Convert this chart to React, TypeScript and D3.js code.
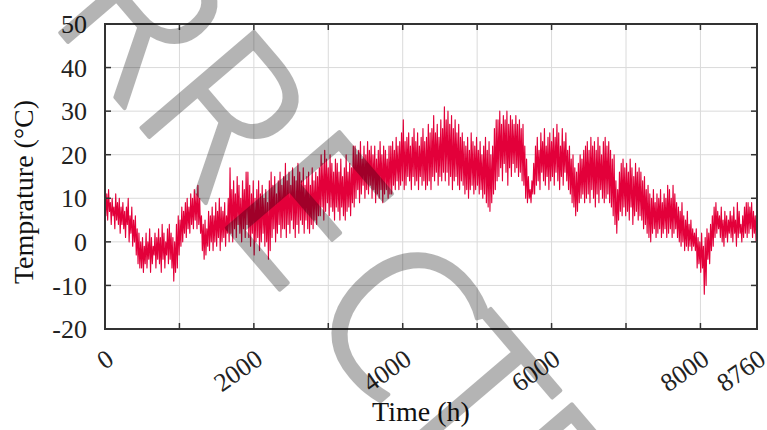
import React from "react";
import * as d3 from "d3";

// Hourly air temperature over one year (8760 h), summarised per day as the
// daily maximum (at the start of the day) and daily minimum (12 h later).
const DAY_HOURS = 24;

const dailyHighs: number[] = [
  13, 11, 12, 9, 10, 8, 11, 9, 10, 8,
  9, 7, 8, 10, 6, 8, 5, 6, 3, 2,
  0, 1, -1, 2, 0, 3, 1, -1, 2, 1,
  3, 1, 4, 2, 0, 3, 4, 2, 1, 0,
  4, 6, 5, 8, 7, 9, 10, 8, 11, 10,
  12, 11, 13, 10, 6, 4, 5, 3, 7, 6,
  8, 6, 9, 7, 10, 8, 7, 9, 6, 10,
  17, 12, 14, 11, 15, 13, 10, 14, 12, 16,
  16, 13, 11, 14, 10, 12, 14, 11, 13, 10,
  12, 9, 14, 16, 13, 15, 11, 14, 16, 13,
  15, 18, 14, 16, 13, 17, 15, 14, 18, 16,
  14, 17, 13, 15, 16, 13, 17, 14, 16, 15,
  17, 20, 18, 21, 19, 17, 20, 18, 16, 19,
  18, 16, 19, 15, 17, 20, 16, 18, 17, 22,
  22, 20, 21, 23, 19, 22, 20, 23, 21, 22,
  20, 22, 19, 21, 23, 20, 22, 21, 19, 22,
  22, 23, 21, 24, 22, 23, 25, 28, 23, 24,
  25, 22, 24, 26, 23, 25, 22, 24, 26, 23,
  24, 27, 25, 26, 29, 25, 27, 24, 28, 26,
  31, 28, 30, 27, 29, 26, 28, 25, 27, 24,
  25, 23, 22, 24, 21, 25, 23, 22, 24, 21,
  23, 20, 22, 24, 21, 23, 20, 22, 26, 28,
  28, 30, 27, 29, 28, 30, 27, 29, 28, 27,
  29, 27, 28, 26, 27, 22, 19, 15, 12, 14,
  18, 22, 24, 21, 25, 23, 26, 22, 24, 25,
  23, 26, 24, 27, 25, 22, 26, 23, 25, 21,
  22, 19, 20, 17, 16, 18, 20, 19, 21, 22,
  23, 21, 24, 22, 23, 21, 24, 22, 20, 23,
  24, 22, 23, 21, 19, 20, 14, 12, 16, 18,
  19, 17, 18, 16, 19, 17, 15, 18, 16, 17,
  16, 14, 15, 12, 13, 11, 10, 12, 9, 11,
  10, 12, 9, 11, 10, 13, 12, 10, 13, 11,
  9, 8, 7, 9, 6, 5, 7, 4, 5, 3,
  2, 3, 1, 0, 2, -1, 1, 3, 2, 4,
  6, 8, 9, 7, 6, 8, 5, 7, 6, 5,
  7, 6, 8, 5, 9, 7, 4, 6, 8, 9,
  9, 8, 9, 7, 6,
];

const dailyLows: number[] = [
  6, 5, 7, 4, 6, 3, 5, 4, 2, 4,
  3, 1, 4, 0, 2, -1, 0, -3, -5, -6,
  -6, -7, -5, -6, -4, -7, -5, -3, -6, -4,
  -5, -7, -4, -6, -3, -5, -4, -6, -9, -7,
  -6, -3, -1, 0, 2, 1, 3, 2, 4, 3,
  5, 3, 4, 2, -2, -4, -3, -1, -2, 0,
  -2, 0, -1, 1, -2, 0, 1, -1, 2, 0,
  2, 0, 3, 1, 4, 2, 0, 3, 1, 4,
  1, -1, 2, -3, 0, 1, -2, 0, 2, -1,
  0, -4, -2, 1, 3, 0, 2, 4, 1, 3,
  3, 1, 4, 2, 5, 3, 1, 4, 2, 5,
  4, 2, 5, 3, 2, 4, 3, 5, 4, 6,
  6, 8, 5, 7, 9, 6, 8, 7, 5, 8,
  7, 5, 8, 6, 5, 7, 8, 6, 9, 8,
  10, 12, 9, 11, 13, 10, 12, 11, 13, 10,
  12, 9, 11, 10, 12, 9, 11, 12, 10, 11,
  11, 13, 12, 14, 12, 13, 14, 12, 13, 15,
  14, 12, 15, 13, 14, 12, 15, 13, 14, 12,
  13, 14, 12, 15, 14, 16, 13, 15, 14, 16,
  14, 16, 13, 15, 12, 14, 15, 13, 12, 14,
  13, 11, 12, 10, 12, 13, 11, 12, 13, 11,
  12, 10, 11, 9, 8, 7, 9, 11, 12, 14,
  15, 17, 14, 18, 16, 13, 17, 15, 18, 16,
  17, 15, 16, 14, 13, 10, 9, 10, 9, 11,
  11, 13, 14, 12, 16, 14, 13, 15, 12, 14,
  15, 13, 16, 14, 12, 15, 13, 16, 14, 12,
  11, 9, 8, 6, 7, 9, 10, 11, 9, 10,
  11, 9, 12, 10, 8, 11, 9, 12, 10, 9,
  10, 11, 9, 8, 6, 4, 2, 5, 7, 6,
  8, 6, 7, 5, 8, 4, 6, 7, 5, 6,
  5, 3, 4, 2, 1, 0, 2, 3, 1, 2,
  3, 1, 2, 3, 1, 2, 3, 1, 2, 3,
  1, 0, -1, 0, -2, -1, -2, -1, -2, -1,
  -2, -6, -5, -7, -6, -12, -10, -4, -5, -2,
  -1, 1, 2, 3, 1, 0, -1, 1, 0, 2,
  1, 0, 2, -1, 1, 2, 0, 1, 2, 1,
  2, 3, 1, 2, 0,
];

const yTickValues = [-20, -10, 0, 10, 20, 30, 40, 50];
const xGridValues = [0, 1000, 2000, 3000, 4000, 5000, 6000, 7000, 8000];
const xLabelValues = [0, 2000, 4000, 6000, 8000, 8760];
const xAxisTitle = "Time (h)";
const yAxisTitle = "Temprature (°C)";
const stampLetters = ["C", "O", "R", "R", "E", "C", "T", "E", "D"];

// layout
const WIDTH = 767;
const HEIGHT = 430;
const PLOT = { left: 105, right: 757, top: 24, bottom: 329 };
const STAMP_OFFSETS = [-165, -25, 108, 233, 360, 501, 610, 718, 830];
const SERIF =
  '"Liberation Serif", "DejaVu Serif", Tinos, "Times New Roman", "Noto Serif", serif';

export default function App() {
  const x = d3.scaleLinear().domain([0, 8760]).range([PLOT.left, PLOT.right]);
  const y = d3.scaleLinear().domain([-20, 50]).range([PLOT.bottom, PLOT.top]);

  const points: [number, number][] = [];
  dailyHighs.forEach((hi, i) => {
    points.push([i * DAY_HOURS, hi]);
    points.push([i * DAY_HOURS + DAY_HOURS / 2, dailyLows[i]]);
  });
  const linePath = d3
    .line<[number, number]>()
    .x((d) => x(d[0]))
    .y((d) => y(d[1]))(points) as string;

  const axisColor = "#333333";
  const gridColor = "#dadada";
  const tickLen = 6;
  const serifStyle = { fontFamily: SERIF };

  return (
    <svg
      width={WIDTH}
      height={HEIGHT}
      style={{ position: "absolute", left: 0, top: 0, background: "#fff" }}
    >
      <defs>
        <clipPath id="plot-clip">
          <rect
            x={PLOT.left}
            y={PLOT.top}
            width={PLOT.right - PLOT.left}
            height={PLOT.bottom - PLOT.top}
          />
        </clipPath>
      </defs>

      {/* grid */}
      {xGridValues.map((v) => (
        <line
          key={"gx" + v}
          x1={x(v)}
          x2={x(v)}
          y1={PLOT.top}
          y2={PLOT.bottom}
          stroke={gridColor}
          strokeWidth={1}
        />
      ))}
      {yTickValues.map((v) => (
        <line
          key={"gy" + v}
          x1={PLOT.left}
          x2={PLOT.right}
          y1={y(v)}
          y2={y(v)}
          stroke={gridColor}
          strokeWidth={1}
        />
      ))}

      {/* temperature trace */}
      <path
        d={linePath}
        fill="none"
        stroke="#e3003a"
        strokeWidth={1.15}
        strokeLinejoin="round"
        clipPath="url(#plot-clip)"
      />

      {/* frame and ticks */}
      <rect
        x={PLOT.left}
        y={PLOT.top}
        width={PLOT.right - PLOT.left}
        height={PLOT.bottom - PLOT.top}
        fill="none"
        stroke={axisColor}
        strokeWidth={2}
      />
      {xGridValues.map((v) => (
        <g key={"tx" + v}>
          <line x1={x(v)} x2={x(v)} y1={PLOT.bottom} y2={PLOT.bottom - tickLen} stroke={axisColor} strokeWidth={1.5} />
          <line x1={x(v)} x2={x(v)} y1={PLOT.top} y2={PLOT.top + tickLen} stroke={axisColor} strokeWidth={1.5} />
        </g>
      ))}
      {yTickValues.map((v) => (
        <g key={"ty" + v}>
          <line x1={PLOT.left} x2={PLOT.left + tickLen} y1={y(v)} y2={y(v)} stroke={axisColor} strokeWidth={1.5} />
          <line x1={PLOT.right} x2={PLOT.right - tickLen} y1={y(v)} y2={y(v)} stroke={axisColor} strokeWidth={1.5} />
        </g>
      ))}

      {/* tick labels */}
      {yTickValues.map((v) => (
        <text
          key={"ly" + v}
          x={PLOT.left - 18}
          y={y(v)}
          dy="0.35em"
          textAnchor="end"
          style={serifStyle}
          fontSize={26}
          fill="#222"
        >
          {String(v)}
        </text>
      ))}
      {xLabelValues.map((v) => (
        <text
          key={"lx" + v}
          transform={`translate(${x(v)},${PLOT.bottom + 19}) rotate(-35)`}
          dy="0.7em"
          textAnchor="end"
          style={serifStyle}
          fontSize={26}
          fill="#222"
        >
          {String(v)}
        </text>
      ))}

      {/* axis titles */}
      <text
        x={421}
        y={421}
        textAnchor="middle"
        style={serifStyle}
        fontSize={28}
        fill="#111"
      >
        {xAxisTitle}
      </text>
      <text
        transform="translate(33,192) rotate(-90)"
        textAnchor="middle"
        style={serifStyle}
        fontSize={28}
        fill="#111"
      >
        {yAxisTitle}
      </text>

      {/* diagonal stamp */}
      <g transform="translate(17,-18) rotate(49.5)" opacity={0.29}>
        {stampLetters.map((ch, i) => (
          <text
            key={"st" + i}
            x={STAMP_OFFSETS[i]}
            y={0}
            textAnchor="middle"
            style={{ fontFamily: '"Noto Sans", Lato, sans-serif' }}
            fontWeight={300}
            fontSize={207}
            fill="#000"
            stroke="#000"
            strokeWidth={4}
            strokeLinejoin="round"
          >
            {ch}
          </text>
        ))}
      </g>
    </svg>
  );
}
